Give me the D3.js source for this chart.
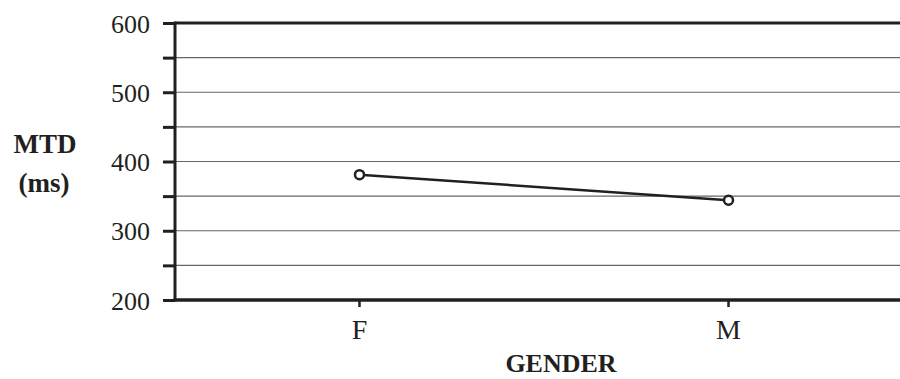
<!DOCTYPE html>
<html>
<head>
<meta charset="utf-8">
<script src="https://cdn.jsdelivr.net/npm/d3@7"></script>
<style>
  body { margin: 0; background: #fff; }
  svg { display: block; }
  svg text { font-family: "Times New Roman", "Liberation Serif", "DejaVu Serif", serif; }
</style>
</head>
<body>
<svg width="900" height="379"></svg>
<script>
  var genders = ["F", "M"]
  var mtd = [381, 344]
  var yTicks = [200, 300, 400, 500, 600]

  var svg = d3.select("svg")
  var mLeft = 175, mTop = 23, mBottom = 300, mRight = 913

  var x = d3.scaleBand().domain(genders).range([mLeft, mRight])
  var y = d3.scaleLinear().domain([200, 600]).range([mBottom, mTop])

  // gridlines every 50
  svg.append("g")
    .selectAll("line")
    .data(d3.range(250, 600, 50))
    .enter().append("line")
    .attr("x1", mLeft).attr("x2", 900)
    .attr("y1", function (d) { return y(d) })
    .attr("y2", function (d) { return y(d) })
    .attr("stroke", "#666")
    .attr("stroke-width", 1.2)

  // top border
  svg.append("line")
    .attr("x1", mLeft).attr("x2", 900)
    .attr("y1", y(600)).attr("y2", y(600))
    .attr("stroke", "#231f20").attr("stroke-width", 3)

  // y axis
  var yAxis = d3.axisLeft(y)
    .tickValues(d3.range(200, 650, 50))
    .tickSize(12)
    .tickFormat(function (d) { return yTicks.indexOf(d) > -1 ? d : "" })
  var gy = svg.append("g").attr("transform", "translate(" + mLeft + ",0)").call(yAxis)
  gy.attr("font-family", null)
  gy.select(".domain").remove()
  gy.selectAll(".tick line").attr("stroke", "#231f20").attr("stroke-width", 3)
  gy.selectAll(".tick text")
    .attr("x", -25)
    .attr("dy", "0.35em")
    .style("font-size", "26px")
    .attr("fill", "#231f20")
  svg.append("line")
    .attr("x1", mLeft).attr("x2", mLeft)
    .attr("y1", mTop - 1.5).attr("y2", mBottom + 1.5)
    .attr("stroke", "#231f20").attr("stroke-width", 3)

  // x axis
  var xAxis = d3.axisBottom(x).tickSize(7).tickPadding(12)
  var gx = svg.append("g").attr("transform", "translate(0," + mBottom + ")").call(xAxis)
  gx.attr("font-family", null)
  gx.select(".domain").remove()
  gx.selectAll(".tick line").attr("stroke", "#231f20").attr("stroke-width", 2.5)
  gx.selectAll(".tick text")
    .style("font-size", "28px")
    .attr("fill", "#231f20")
  svg.append("line")
    .attr("x1", mLeft - 1.5).attr("x2", 900)
    .attr("y1", mBottom).attr("y2", mBottom)
    .attr("stroke", "#231f20").attr("stroke-width", 3.5)

  // series line
  var pts = genders.map(function (g, i) { return [x(g) + x.bandwidth() / 2, y(mtd[i])] })
  svg.append("path")
    .attr("d", d3.line()(pts))
    .attr("fill", "none")
    .attr("stroke", "#231f20")
    .attr("stroke-width", 2.5)
  svg.append("g")
    .selectAll("circle")
    .data(pts)
    .enter().append("circle")
    .attr("cx", function (d) { return d[0] })
    .attr("cy", function (d) { return d[1] })
    .attr("r", 4.5)
    .attr("fill", "#fff")
    .attr("stroke", "#231f20")
    .attr("stroke-width", 2.5)

  // axis titles
  svg.append("text").attr("x", 45).attr("y", 153)
    .attr("text-anchor", "middle").style("font-size", "27px").attr("font-weight", "bold")
    .attr("fill", "#231f20").text("MTD")
  svg.append("text").attr("x", 44).attr("y", 192)
    .attr("text-anchor", "middle").style("font-size", "27px").attr("font-weight", "bold")
    .attr("fill", "#231f20").text("(ms)")
  svg.append("text").attr("x", 561).attr("y", 372)
    .attr("text-anchor", "middle").style("font-size", "26px").attr("font-weight", "bold")
    .attr("fill", "#231f20").text("GENDER")
</script>
</body>
</html>
